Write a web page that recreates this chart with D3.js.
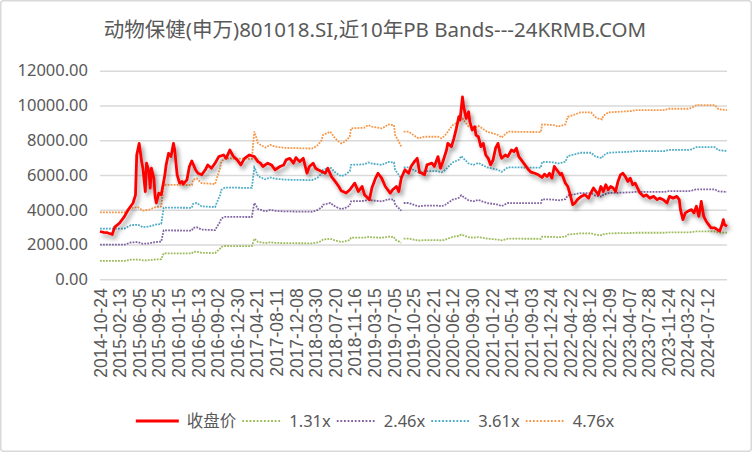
<!DOCTYPE html>
<html>
<head>
<meta charset="utf-8">
<script src="https://cdn.jsdelivr.net/npm/d3@7"></script>
<style>
  body { margin: 0; background: #fff; }
</style>
</head>
<body>
<div id="chart"></div>
<script>
// chart text
var title = "动物保健(申万)801018.SI,近10年PB Bands---24KRMB.COM";
var closeName = "收盘价";

// category labels, one every 16 weekly points
var tickLabels = ["2014-10-24", "2015-02-13", "2015-06-05", "2015-09-25", "2016-01-15",
  "2016-05-13", "2016-09-02", "2016-12-30", "2017-04-21", "2017-08-11", "2017-12-08",
  "2018-03-30", "2018-07-20", "2018-11-16", "2019-03-15", "2019-07-05", "2019-10-25",
  "2020-02-21", "2020-06-12", "2020-09-30", "2021-01-22", "2021-05-14", "2021-09-03",
  "2021-12-24", "2022-04-22", "2022-08-12", "2022-12-09", "2023-04-07", "2023-07-28",
  "2023-11-24", "2024-03-22", "2024-07-12"];
var tickStep = 16;
var lastIndex = 512;

var yTicks = [0, 2000, 4000, 6000, 8000, 10000, 12000];

// close price: [week index, value]
var closeData = [[0,2750],[3,2700],[6,2680],[10,2580],[12,3000],[16,3240],[20,3620],[23,4000],
  [27,4390],[29,4860],[30,7150],[32,7820],[34,6770],[35,6390],[37,5050],[38,6680],[40,6200],
  [41,5250],[42,6390],[44,5820],[45,4770],[46,4390],[48,4960],[50,4860],[52,5630],[53,6010],
  [54,6580],[56,7250],[58,7060],[60,7820],[61,7440],[63,6010],[65,5530],[67,5630],[68,5480],
  [71,5720],[73,6490],[75,6810],[78,6300],[80,6100],[83,6010],[86,6300],[88,6580],[91,6390],
  [94,6680],[97,7060],[101,7150],[103,6960],[106,7440],[109,7060],[112,6870],[115,6580],
  [118,6960],[122,7150],[126,7060],[129,6770],[131,6680],[133,6490],[137,6680],[140,6580],
  [143,6300],[147,6490],[150,6580],[152,6870],[155,6960],[158,6680],[160,7000],[163,6770],
  [166,6960],[169,6100],[171,6490],[174,6680],[176,6390],[178,6300],[181,6200],[184,6100],
  [186,6390],[189,5910],[192,5630],[195,5340],[197,5090],[201,4960],[204,5150],[208,5530],
  [211,5050],[214,5340],[216,4860],[220,4580],[222,5250],[225,5820],[227,6100],[230,5820],
  [233,5340],[237,4960],[239,5150],[242,5340],[244,5050],[246,5820],[249,6300],[252,6100],
  [254,6490],[257,6800],[259,6960],[261,6150],[263,6100],[265,6010],[267,6580],[271,6680],
  [273,6490],[276,7060],[278,6390],[280,6770],[283,7440],[284,7820],[287,7630],[289,8110],
  [291,8680],[293,9350],[294,9160],[296,10490],[297,9920],[299,9250],[301,9640],[302,9060],
  [304,8590],[306,8780],[307,8300],[309,8200],[311,7630],[313,7820],[315,7150],[317,6960],
  [319,6580],[321,6870],[323,7540],[325,7820],[327,7150],[328,6960],[331,7150],[333,7060],
  [336,7440],[338,7340],[340,7540],[342,7060],[344,6870],[347,6580],[350,6300],[352,6160],
  [355,6100],[358,6010],[361,5860],[363,6050],[365,5910],[367,6100],[369,5820],[371,6490],
  [374,6200],[376,6010],[377,6100],[380,5530],[382,5340],[384,4860],[386,4290],[388,4400],
  [390,4600],[393,4770],[396,4860],[399,4670],[400,4860],[403,5250],[405,5050],[407,4860],
  [409,5340],[411,5050],[413,5440],[415,5150],[417,5340],[419,5250],[421,5050],[423,5630],
  [425,6010],[427,6100],[429,5910],[431,5630],[433,5820],[435,5440],[437,5530],[439,5250],
  [441,4960],[444,4770],[446,4860],[449,4670],[452,4770],[455,4580],[457,4670],[460,4580],
  [463,4390],[465,4770],[468,4670],[471,4770],[473,4580],[474,4010],[476,3430],[478,3820],
  [480,3910],[483,4010],[485,3820],[487,4200],[489,3620],[491,4480],[493,3620],[495,3340],
  [497,3150],[499,2960],[502,2960],[504,2860],[506,2770],[508,3150],[509,3430],[510,3150],
  [512,3050]];

// book value per share (PB = 1x): [week index, value], null = missing
var bookData = [[0,809],[20,809],[22,830],[25,861],[31,870],[35,830],[40,840],[45,870],
  [50,882],[52,1143],[75,1139],[76,1202],[79,1218],[83,1162],[94,1151],[95,1202],[98,1342],
  [99,1422],[102,1462],[124,1456],[126,1784],[127,1744],[129,1643],[135,1592],[139,1624],
  [143,1603],[151,1588],[173,1580],[176,1603],[178,1624],[181,1683],[182,1744],[185,1763],
  [188,1784],[190,1744],[192,1704],[195,1664],[197,1643],[200,1664],[204,1723],[205,1824],
  [216,1832],[219,1863],[222,1845],[230,1824],[233,1845],[235,1872],[240,1863],[241,1744],
  [244,1664],[246,1603],[247,null],[248,1784],[252,1784],[256,1744],[260,1704],[265,1723],
  [276,1723],[279,1704],[282,1744],[284,1784],[288,1863],[293,1903],[295,1964],[298,1903],
  [301,1845],[305,1824],[309,1855],[312,1824],[316,1784],[321,1763],[325,1744],[328,1712],
  [333,1784],[360,1779],[361,1872],[371,1863],[374,1845],[380,1872],[382,1964],[388,1992],
  [392,2017],[401,2017],[404,1964],[407,1943],[410,1933],[411,1975],[415,2017],[434,2034],
  [437,2044],[461,2044],[464,2061],[480,2061],[483,2071],[487,2105],[502,2105],[505,2057],
  [512,2044]];

var multiples = [1.31, 2.46, 3.61, 4.76];
var bandColors = ["#9bbb59", "#8064a2", "#4bacc6", "#f79646"];
var closeColor = "#ff0000";

var width = 752, height = 452;
var plotLeft = 100, plotRight = 727, plotTop = 70.7, plotBottom = 279.3;
var latin = "'Noto Sans', 'Noto Sans CJK SC', sans-serif";

var svg = d3.select("#chart").append("svg")
  .attr("width", width).attr("height", height)
  .style("display", "block");

svg.append("rect")
  .attr("x", 0.75).attr("y", 0.75)
  .attr("width", width - 1.5).attr("height", height - 1.5)
  .attr("rx", 3)
  .attr("fill", "#fff").attr("stroke", "#d9d9d9").attr("stroke-width", 1.5);

var defs = svg.append("defs");
var shadow = defs.append("filter").attr("id", "shadow")
  .attr("x", "-5%").attr("y", "-5%").attr("width", "110%").attr("height", "120%");
shadow.append("feDropShadow")
  .attr("dx", 2.5).attr("dy", 3.5).attr("stdDeviation", 2.2)
  .attr("flood-color", "#000").attr("flood-opacity", 0.4);

var xScale = d3.scaleLinear().domain([0, lastIndex]).range([plotLeft, plotRight]);
var yScale = d3.scaleLinear().domain([0, 12000]).range([plotBottom, plotTop]);

// title
svg.append("text")
  .attr("x", 375).attr("y", 37)
  .attr("text-anchor", "middle")
  .style("font-family", latin)
  .style("font-size", "20.5px")
  .style("fill", "#595959")
  .text(title);

// y axis + gridlines
var yAxis = svg.append("g")
  .attr("transform", "translate(" + plotLeft + ",0)")
  .call(d3.axisLeft(yScale).tickValues(yTicks)
    .tickSize(-(plotRight - plotLeft)).tickPadding(12)
    .tickFormat(d3.format(".2f")));
yAxis.select(".domain").remove();
yAxis.selectAll("line").attr("stroke", "#d9d9d9").attr("stroke-width", 1.6);
yAxis.selectAll("text")
  .style("font-family", latin).style("font-size", "16.5px").style("fill", "#595959");

// x axis labels
var tickIdx = tickLabels.map(function (d, i) { return i * tickStep; });
var xAxis = svg.append("g")
  .attr("transform", "translate(0," + plotBottom + ")")
  .call(d3.axisBottom(xScale).tickValues(tickIdx).tickSize(0)
    .tickFormat(function (d, i) { return tickLabels[i]; }));
xAxis.select(".domain").remove();
xAxis.selectAll("text")
  .attr("transform", "rotate(-90)")
  .attr("x", -9).attr("y", 0).attr("dy", "0.35em")
  .attr("text-anchor", "end")
  .style("font-family", "'Liberation Sans', Arial, sans-serif")
  .style("font-size", "17.5px")
  .style("fill", "#595959");

// PB bands
var bandLine = d3.line()
  .defined(function (d) { return d[1] != null; })
  .x(function (d) { return xScale(d[0]); });

multiples.forEach(function (m, k) {
  bandLine.y(function (d) { return yScale(d[1] * m); });
  svg.append("path")
    .datum(bookData)
    .attr("d", bandLine)
    .attr("fill", "none")
    .attr("stroke", bandColors[k])
    .attr("stroke-width", 1.8)
    .attr("stroke-dasharray", "1.8,1.2");
});

// close price
var closeLine = d3.line()
  .x(function (d) { return xScale(d[0]); })
  .y(function (d) { return yScale(d[1]); });

svg.append("path")
  .datum(closeData)
  .attr("d", closeLine)
  .attr("fill", "none")
  .attr("stroke", closeColor)
  .attr("stroke-width", 2.8)
  .attr("stroke-linejoin", "round")
  .attr("filter", "url(#shadow)");

// legend
var legendItems = [{ name: closeName, color: closeColor, dash: null, len: 43 }];
multiples.forEach(function (m, k) {
  legendItems.push({ name: m.toFixed(2) + "x", color: bandColors[k], dash: "1.8,1.8", len: 39 });
});

var legend = svg.append("g");
var lx = 0, legendY = 421, textGap = 8, itemGap = 6;
legendItems.forEach(function (item) {
  var g = legend.append("g").attr("transform", "translate(" + lx + ",0)");
  g.append("line")
    .attr("x1", 0).attr("x2", item.len)
    .attr("y1", legendY).attr("y2", legendY)
    .attr("stroke", item.color)
    .attr("stroke-width", item.dash ? 1.8 : 2.8)
    .attr("stroke-dasharray", item.dash);
  var t = g.append("text")
    .attr("x", item.len + textGap).attr("y", legendY).attr("dy", "0.35em")
    .style("font-family", latin).style("font-size", "16.5px").style("fill", "#595959")
    .text(item.name);
  lx += item.len + textGap + t.node().getComputedTextLength() + itemGap;
});
var legendW = lx - itemGap;
legend.attr("transform", "translate(" + (375 - legendW / 2) + ",0)");
</script>
</body>
</html>
